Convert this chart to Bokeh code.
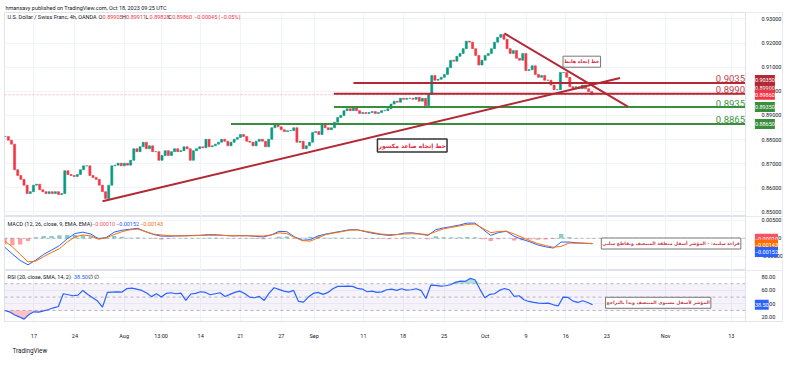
import numpy as np
from bokeh.plotting import figure
from bokeh.models import (Range1d, FixedTicker, PrintfTickFormatter, Label, BoxAnnotation,
                          Grid, Title)
from bokeh.layouts import column
from bokeh.embed import file_html
from bokeh.resources import INLINE
from bokeh.core.properties import value

# ---------------- data ----------------
header_text = "hmansavy published on TradingView.com, Oct 18, 2023 09:25 UTC"
symbol_text = "U.S. Dollar / Swiss Franc, 4h, OANDA"
logo_text = "TradingView"
last_open, last_high, last_low, last_close = 0.89905, 0.89911, 0.89828, 0.89860
last_change, last_change_pct = -0.00045, -0.05

closes = [
    0.8813, 0.8797, 0.8781, 0.8675, 0.8651, 0.8635, 0.8611, 0.8576, 0.8584, 0.8611,
    0.8615, 0.8592, 0.8584, 0.8576, 0.8584, 0.8576, 0.8584, 0.8572, 0.8576, 0.8671,
    0.8655, 0.8651, 0.8647, 0.8655, 0.8675, 0.8691, 0.8691, 0.8651, 0.8643, 0.8635,
    0.8611, 0.8584, 0.8556, 0.8611, 0.8691, 0.8694, 0.8702, 0.8691, 0.8702, 0.8694,
    0.8714, 0.8762, 0.8750, 0.8770, 0.8789, 0.8762, 0.8774, 0.8750, 0.8750, 0.8714,
    0.8734, 0.8754, 0.8734, 0.8750, 0.8762, 0.8750, 0.8754, 0.8770, 0.8762, 0.8714,
    0.8754, 0.8762, 0.8770, 0.8766, 0.8801, 0.8770, 0.8774, 0.8781, 0.8789, 0.8801,
    0.8793, 0.8774, 0.8789, 0.8801, 0.8809, 0.8821, 0.8813, 0.8793, 0.8789, 0.8774,
    0.8793, 0.8801, 0.8793, 0.8770, 0.8801, 0.8849, 0.8860, 0.8853, 0.8841, 0.8833,
    0.8837, 0.8837, 0.8849, 0.8789, 0.8793, 0.8762, 0.8774, 0.8789, 0.8829,
    0.8833, 0.8821, 0.8860, 0.8849, 0.8841, 0.8849, 0.8872, 0.8892, 0.8900, 0.8920,
    0.8928, 0.8920, 0.8932, 0.8920, 0.8908, 0.8912, 0.8908, 0.8912, 0.8916, 0.8908,
    0.8912, 0.8920, 0.8920, 0.8928, 0.8947, 0.8959, 0.8955, 0.8971, 0.8967, 0.8971,
    0.8971, 0.8967, 0.8975, 0.8959, 0.8971, 0.8940, 0.8987, 0.9066, 0.9046, 0.9050,
    0.9058, 0.9070, 0.9098, 0.9129, 0.9125, 0.9145, 0.9157, 0.9177, 0.9208, 0.9204,
    0.9177, 0.9149, 0.9109, 0.9129, 0.9149, 0.9157, 0.9177, 0.9204, 0.9224, 0.9236,
    0.9216, 0.9177, 0.9157, 0.9169, 0.9137, 0.9129, 0.9157, 0.9086, 0.9090, 0.9106,
    0.9070, 0.9058, 0.9066, 0.9046, 0.9046, 0.9026, 0.9007, 0.9007, 0.9078, 0.9078,
    0.9058, 0.9019, 0.9011, 0.9019, 0.9011, 0.9026, 0.9011, 0.8999, 0.8986,
]
candle_first_bar = -21.0
candle_last_bar = 408.0

# time axis (bar index, 0 = Jul 17)
x_tick_bars = [0, 30, 66, 93, 122, 151, 181, 205, 241, 270, 300, 330, 360, 389, 419, 462, 510]
x_tick_labels = ["17", "24", "Aug", "13:00", "14", "21", "27", "Sep", "11", "18",
                 "25", "Oct", "9", "16", "23", "Nov", "13"]

price_ticks = [0.85, 0.86, 0.87, 0.88, 0.89, 0.90, 0.91, 0.92, 0.93]

# horizontal levels
level_prices = [0.9035, 0.8990, 0.8935, 0.8865]
level_start_bars = [233.7, 219.4, 219.4, 144.1]
level_kind = ["res", "res", "sup", "sup"]

# trend lines (broken uptrend, downtrend)
trend_start_bars = [50.2, 344.1]
trend_start_prices = [0.8544, 0.9240]
trend_end_bars = [428.7, 434.4]
trend_end_prices = [0.9055, 0.8937]

# MACD (12, 26, close, 9) sampled every ~5.7 bars
macd_values = [
    -0.00245, -0.00434, -0.00618, -0.00737, -0.00605, -0.00447, -0.00329, -0.00205, -0.00013, 0.00132,
    0.00171, 0.00118, -0.00013, 0.00026, 0.00171, 0.00224, 0.00250, 0.00276, 0.00184, 0.00105,
    0.00060, 0.00058, 0.00066, 0.00071, 0.00079, 0.00084, 0.00100, 0.00097, 0.00079, 0.00066,
    0.00074, 0.00074, 0.00053, 0.00037, 0.00092, 0.00192, 0.00184, 0.00039, -0.00053, -0.00039,
    0.00066, 0.00118, 0.00158, 0.00197, 0.00237, 0.00237, 0.00184, 0.00137, 0.00105, 0.00079,
    0.00100, 0.00145, 0.00153, 0.00118, 0.00079, 0.00237, 0.00289, 0.00324, 0.00368, 0.00421,
    0.00421, 0.00250, 0.00079, 0.00158, 0.00197, 0.00053, -0.00026, -0.00100, -0.00184, -0.00237,
    -0.00271, -0.00105, -0.00105, -0.00126, -0.00137, -0.00152,
]
signal_values = [
    -0.00071, -0.00237, -0.00447, -0.00658, -0.00632, -0.00508, -0.00395, -0.00289, -0.00105, 0.00039,
    0.00092, 0.00066, -0.00026, 0.00013, 0.00105, 0.00184, 0.00237, 0.00255, 0.00184, 0.00118,
    0.00092, 0.00074, 0.00066, 0.00066, 0.00071, 0.00079, 0.00084, 0.00084, 0.00079, 0.00071,
    0.00068, 0.00068, 0.00066, 0.00063, 0.00092, 0.00150, 0.00132, 0.00026, -0.00066, -0.00079,
    0.00013, 0.00105, 0.00145, 0.00184, 0.00224, 0.00232, 0.00197, 0.00158, 0.00118, 0.00105,
    0.00105, 0.00118, 0.00126, 0.00118, 0.00105, 0.00184, 0.00263, 0.00303, 0.00342, 0.00382,
    0.00395, 0.00276, 0.00158, 0.00184, 0.00197, 0.00118, 0.00026, -0.00066, -0.00145, -0.00203,
    -0.00250, -0.00224, -0.00132, -0.00137, -0.00140, -0.00143,
]
macd_last, signal_last, hist_last = -0.00152, -0.00143, -0.00010
macd_ticks = [-0.005, 0.0, 0.005]

# RSI (20) sampled every ~3.6 bars
rsi_values = [
    30, 28, 23.5, 20.5, 17, 24, 28, 27.6, 29.5, 31.5,
    34, 36, 55, 53.5, 52, 53, 60, 54, 49, 44,
    35, 57, 57.5, 57.8, 57.5, 62.8, 63.5, 62, 60, 56,
    50.7, 55, 50, 55.5, 56.5, 55, 56, 45, 54.6, 55.5,
    58, 57, 53.5, 55, 56.5, 51, 54, 57, 59, 55.5,
    50, 49, 51, 45, 56, 64, 61.5, 59, 57.5, 60,
    43.5, 42.5, 50, 55.5, 57, 54, 57, 62.5, 66, 66,
    66.5, 66, 63, 62, 58, 59, 57, 57.8, 61, 62,
    60, 62.5, 60.5, 61, 62.5, 60, 48, 68, 67.6, 66.5,
    67, 68.5, 72, 74, 73.5, 78, 76, 62, 49, 54,
    55, 60, 62.8, 61, 51, 52, 46, 43.5, 42, 41,
    40.5, 41, 38.5, 37, 50, 49.5, 44, 42, 44.5, 42,
    38.5,
]
rsi_last = 38.50
rsi_ticks = [20, 40, 60, 80]
rsi_levels = [30, 50, 70]
ind_first_bar = -21.5
ind_last_bar = 408.6

# Arabic notes: (text, bar, value)
note_down = ("خط إتجاه هابط", 400.7, 0.9123)
note_up = ("خط إتجاه صاعد مكسور", 276.7, 0.8775)
note_macd = ("قراءة سلبية: - المؤشر أسفل منطقة المنتصف وتقاطع سلبي", 466.0, -0.00145)
note_rsi = ("المؤشر لأسفل مستوى المنتصف وبدأ بالتراجع", 456.6, 41.5)

# ---------------- style ----------------
FONT = "Roboto"
AR_FONT = "DejaVu Sans"
TXT = "#131722"
GRID = "#f0f3fa"
SEP = "#e0e3eb"
UP = "#089981"
DOWN = "#F23645"
LVL_RED = "#B22833"
LVL_GREEN = "#388E3C"
BLUE = "#2962FF"
ORANGE = "#FF6D00"
SMALL = "5.5px"
FRAME_W = 778          # chart area + price-scale area
X_START = -21.5
CHART_END = 520.4      # bar where the price scale begins
X_END = 547.5
AXIS_LABEL_X = 527.3


def fmt(v, d=5):
    return f"{v:.{d}f}".replace("-", "\u2212")


x_range = Range1d(X_START, X_END)


def make_fig(frame_h, y0, y1, ticks, tfmt, top=0, bottom=0, xaxis=False):
    p = figure(frame_width=FRAME_W, frame_height=frame_h, x_range=x_range,
               y_range=Range1d(y0, y1), output_backend="svg", toolbar_location=None,
               x_axis_location="below" if xaxis else None, y_axis_location="right",
               min_border_left=4, min_border_right=2, min_border_top=top,
               min_border_bottom=bottom)
    p.outline_line_color = SEP
    p.background_fill_color = "white"
    p.border_fill_color = "white"
    for g in p.xgrid:
        g.visible = False
    p.ygrid.grid_line_color = GRID
    p.add_layout(Grid(dimension=0, ticker=FixedTicker(ticks=x_tick_bars),
                      grid_line_color=GRID, grid_line_width=1))
    # price-scale area (white, covers grid lines)
    p.add_layout(BoxAnnotation(left=CHART_END, fill_color="white", fill_alpha=1,
                               line_color=None, level="underlay"))
    ya = p.yaxis[0]
    ya.fixed_location = CHART_END
    ya.ticker = FixedTicker(ticks=ticks)
    ya.formatter = PrintfTickFormatter(format=tfmt)
    ya.axis_line_color = SEP
    ya.major_tick_line_color = None
    ya.minor_tick_line_color = None
    ya.major_label_standoff = 10
    ya.major_label_text_font = FONT
    ya.major_label_text_font_size = SMALL
    ya.major_label_text_color = TXT
    return p


def text_label(p, x, y, text, color=TXT, size=SMALL):
    p.add_layout(Label(x=x, y=y, x_units="screen", y_units="screen", text=text,
                       text_color=color, text_font=FONT, text_font_size=size,
                       text_baseline="middle"))


def axis_box(p, y, text, bg, yoff=0):
    p.add_layout(Label(x=AXIS_LABEL_X, y=y, text=text, text_color="white",
                       text_font=FONT, text_font_size=SMALL, text_baseline="middle",
                       text_align="left", y_offset=yoff, background_fill_color=bg,
                       padding=(0, 3)))


def note(p, n, color, border, bw, size):
    t, x, y = n
    p.add_layout(Label(x=x, y=y, text=t, text_color=color, text_font=AR_FONT,
                       text_font_style="bold", text_font_size=size, text_align="center",
                       text_baseline="middle", background_fill_color="white",
                       border_line_color=border, border_line_width=bw, padding=(1, 3)))


def hline(p, y, color, alpha, dash, width=1):
    p.segment(x0=[X_START], y0=[y], x1=[CHART_END], y1=[y], line_color=color,
              line_alpha=alpha, line_dash=dash, line_width=width)


# ---------------- price pane ----------------
pp = make_fig(204, 0.84810, 0.93269, price_ticks, "%.5f", top=12)
pp.title.text = header_text
pp.title.text_font = FONT
pp.title.text_font_size = "5.5px"
pp.title.text_font_style = "normal"
pp.title.text_color = TXT
pp.title.align = "left"
pp.title.offset = 1
pp.title.standoff = 4

c = np.array(closes)
o = np.concatenate([[c[0]], c[:-1]])
cx = np.linspace(candle_first_bar, candle_last_bar, len(c))
ccol = [UP if ci >= oi else DOWN for ci, oi in zip(c, o)]
pp.vbar(x=cx, width=1.5, top=np.maximum(o, c), bottom=np.minimum(o, c),
        fill_color=ccol, line_color=ccol, line_width=0.6)

hline(pp, last_close, DOWN, 0.35, "2 2")

lvl_line_col = [LVL_RED if k == "res" else LVL_GREEN for k in level_kind]
lvl_txt_col = ["#C2414C" if k == "res" else "#3E9444" for k in level_kind]
pp.segment(x0=level_start_bars, y0=level_prices, x1=[CHART_END] * len(level_prices),
           y1=level_prices, line_color=lvl_line_col, line_width=2)
pp.text(x=[CHART_END - 0.3] * len(level_prices), y=level_prices,
        text=[f"{v:.4f}" for v in level_prices], text_align="right",
        text_baseline="alphabetic", y_offset=-4, text_color=lvl_txt_col,
        text_font=value(FONT), text_font_size="9.5px")

pp.segment(x0=trend_start_bars, y0=trend_start_prices, x1=trend_end_bars,
           y1=trend_end_prices, line_color=LVL_RED, line_width=2)

note(pp, note_down, "#E0283A", "#777777", 1, "4.8px")
note(pp, note_up, "#E0283A", "#333333", 1.5, "6px")

# legend
text_label(pp, 3, 199.2, symbol_text)
ohlc = [("O", last_open, 94.1), ("H", last_high, 117.6), ("L", last_low, 141.1), ("C", last_close, 163.7)]
for letter, v, xpos in ohlc:
    text_label(pp, xpos, 199.2, letter)
    text_label(pp, xpos + 4.0, 199.2, fmt(v), color=DOWN)
text_label(pp, 189.6, 199.2, f"{fmt(last_change)} ({fmt(last_change_pct, 2)}%)", color=DOWN)

# right-scale labels
axis_box(pp, level_prices[0], fmt(level_prices[0]), LVL_RED, 3)
axis_box(pp, level_prices[1], fmt(level_prices[1]), LVL_RED, 6)
axis_box(pp, last_close, fmt(last_close), DOWN, 0)
axis_box(pp, level_prices[2], fmt(level_prices[2]), LVL_GREEN, 0)
axis_box(pp, level_prices[3], fmt(level_prices[3]), LVL_GREEN, 0)

# ---------------- MACD pane ----------------
mp = make_fig(54, -0.00895, 0.00605, macd_ticks, "%.5f")
mx = np.linspace(ind_first_bar, ind_last_bar, len(macd_values))
m = np.array(macd_values)
s = np.array(signal_values)
h = m - s
hcol = ["#26A69A" if v >= 0 else "#FF5252" for v in h]
mp.vbar(x=mx, width=3.2, top=np.maximum(h, 0), bottom=np.minimum(h, 0),
        fill_color=hcol, line_color=None, fill_alpha=0.55)
hline(mp, 0.0, "#787B86", 0.5, "3 3")
mp.line(mx, m, line_color=BLUE, line_width=1)
mp.line(mx, s, line_color=ORANGE, line_width=1)
note(mp, note_macd, "#C2414C", "#777777", 1, "4.6px")

text_label(mp, 3, 47, "MACD (12, 26, close, 9, EMA, EMA)")
text_label(mp, 87.5, 47, fmt(hist_last), color="#F7525F")
text_label(mp, 111.5, 47, fmt(macd_last), color=BLUE)
text_label(mp, 135.5, 47, fmt(signal_last), color=ORANGE)

axis_box(mp, hist_last, fmt(hist_last), "#F7525F", 0)
axis_box(mp, signal_last, fmt(signal_last), ORANGE, -1.3)
axis_box(mp, macd_last, fmt(macd_last), BLUE, -8.3)

# ---------------- RSI pane ----------------
rp = make_fig(51, 13.5, 89.8, rsi_ticks, "%.2f", bottom=29, xaxis=True)
rp.add_layout(BoxAnnotation(left=X_START, right=CHART_END, bottom=rsi_levels[0],
                            top=rsi_levels[2], fill_color="#7E57C2", fill_alpha=0.08,
                            line_color=None, level="underlay"))
for lv in rsi_levels:
    hline(rp, lv, "#787B86", 0.5, "3 3")
rx = np.linspace(ind_first_bar, ind_last_bar, len(rsi_values))
r = np.array(rsi_values, dtype=float)
rp.varea(x=rx, y1=np.minimum(r, rsi_levels[0]), y2=rsi_levels[0],
         fill_color=DOWN, fill_alpha=0.3)
rp.varea(x=rx, y1=rsi_levels[2], y2=np.maximum(r, rsi_levels[2]),
         fill_color=UP, fill_alpha=0.3)
rp.line(rx, r, line_color=BLUE, line_width=1.2)
note(rp, note_rsi, "#C2414C", "#777777", 1, "4.6px")

text_label(rp, 3, 44.3, "RSI (20, close, SMA, 14, 2)")
text_label(rp, 69.5, 44.3, f"{rsi_last:.2f}", color=BLUE)
text_label(rp, 83.0, 44.3, "\u2205  \u2205", color=TXT)
axis_box(rp, rsi_last, f"{rsi_last:.2f}", BLUE, 0)

xa = rp.xaxis[0]
xa.ticker = FixedTicker(ticks=x_tick_bars)
xa.major_label_overrides = {t: l for t, l in zip(x_tick_bars, x_tick_labels)}
xa.axis_line_color = SEP
xa.major_tick_line_color = None
xa.minor_tick_line_color = None
xa.major_label_standoff = 5
xa.major_label_text_font = FONT
xa.major_label_text_font_size = SMALL
xa.major_label_text_color = TXT

rp.add_layout(Title(text=logo_text, align="left", offset=8, standoff=6,
                    text_font=FONT, text_font_size="6.3px", text_font_style="normal",
                    text_color=TXT), "below")

layout = column(pp, mp, rp, spacing=0)
open("out.html", "w").write(file_html(layout, INLINE))
